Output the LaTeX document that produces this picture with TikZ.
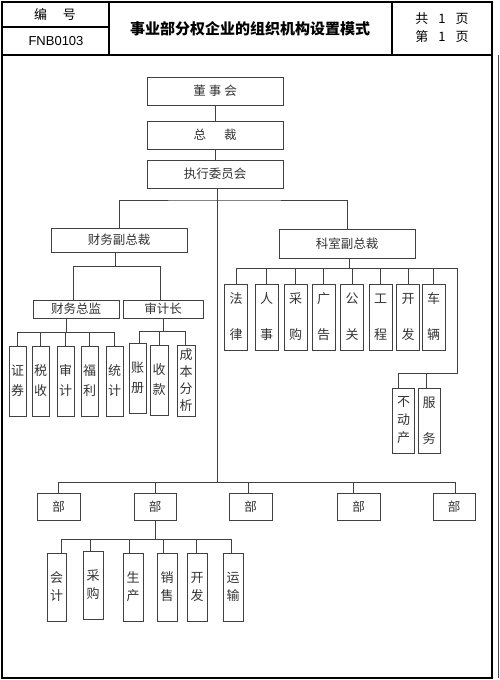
\documentclass[tikz,border=0pt]{standalone}
\usepackage{fontspec}
\setmainfont{Noto Sans CJK SC}
\newfontfamily\latinfont{Liberation Sans}
\usepackage{tikz}
\tikzset{
  unit/.style={draw=black!75, line width=0.7pt, inner sep=0pt, font=\fontsize{12.5}{12.5}\selectfont, text=black!80},
  leaf/.style={draw=black!75, line width=0.7pt, inner sep=0pt, align=center, font=\fontsize{13}{13}\selectfont, text=black!80},
  link/.style={draw=black!75, line width=0.7pt},
}
\begin{document}
\begin{tikzpicture}[x=1pt, y=-1pt]
			%%%%% START %%%%%
			\useasboundingbox (0, 0) rectangle (500, 680);
			
			% header
			\draw[line width=1.4pt] (2, 2) rectangle (492, 55);
			\draw[line width=1.1pt] (109, 2) -- (109, 55);
			\draw[line width=1.1pt] (392, 2) -- (392, 55);
			\draw[line width=1.1pt] (2, 27) -- (109, 27);
			\node (code) at (55, 15) {\fontsize{13}{13}\selectfont 编\hspace{16pt}号};
			\node (codeno) at (56, 41) {\latinfont\fontsize{13}{13}\selectfont FNB0103};
			\node (title) at (250, 29) {\fontsize{15}{15}\selectfont\bfseries 事业部分权企业的组织机构设置模式};
			\node (pages) at (442, 19) {\fontsize{13}{13}\selectfont 共\hspace{10pt}1\hspace{10pt}页};
			\node (pageno) at (442, 37) {\fontsize{13}{13}\selectfont 第\hspace{10pt}1\hspace{10pt}页};
			
			% frame
			\draw[line width=1.4pt] (2, 55) -- (2, 678) -- (492, 678) -- (492, 55);
			\draw[line width=0.8pt, color=black!70] (498, 55) -- (498, 678);
			
			% top
			\node[unit, minimum width=136pt, minimum height=28pt] (board) at (215, 91) {董\hspace{3pt}事\hspace{3pt}会};
			\node[unit, minimum width=136pt, minimum height=28pt] (pres) at (215, 135) {总\hspace{18pt}裁};
			\node[unit, minimum width=136pt, minimum height=28pt] (exec) at (215, 174) {执行委员会};
			\draw[link] (board) -- (pres);
			\draw[link] (pres) -- (exec);
			
			% vice presidents
			\node[unit, minimum width=136pt, minimum height=24pt] (fin) at (119, 240) {财务副总裁};
			\node[unit, minimum width=136pt, minimum height=29pt] (off) at (347, 243.5) {科室副总裁};
			\coordinate (vbus) at (216, 200);
			\draw[link] (fin.north) |- (vbus) -| (off.north);
			
			% finance side
			\node[unit, minimum width=86pt, minimum height=18pt] (cfo) at (76, 309) {财务总监};
			\node[unit, minimum width=80pt, minimum height=18pt] (audit) at (163, 309) {审计长};
			\coordinate (fbus) at (115, 266);
			\coordinate (fl) at (73, 266);
			\coordinate (fr) at (160, 266);
			\draw[link] (fbus |- fin.south) -- (fbus);
			\draw[link] (fl) -- (fr);
			\draw[link] (fl) -- (fl |- cfo.north);
			\draw[link] (fr) -- (fr |- audit.north);
			
			\node[leaf, minimum width=17pt, minimum height=70pt] (sec) at (17.5, 381) {证\\[7pt]券};
			\node[leaf, minimum width=17pt, minimum height=70pt] (tax) at (40.5, 381) {税\\[7pt]收};
			\node[leaf, minimum width=17pt, minimum height=70pt] (aud) at (65.5, 381) {审\\[7pt]计};
			\node[leaf, minimum width=17pt, minimum height=70pt] (wel) at (89.5, 381) {福\\[7pt]利};
			\node[leaf, minimum width=17pt, minimum height=70pt] (stat) at (114.5, 381) {统\\[7pt]计};
			\coordinate (cbus) at (66, 332);
			\draw[link] (cbus |- cfo.south) -- (cbus);
			\draw[link] (sec.north |- cbus) -- (stat.north |- cbus);
			\draw[link] (sec.north |- cbus) -- (sec.north);
			\draw[link] (tax.north |- cbus) -- (tax.north);
			\draw[link] (aud.north |- cbus) -- (aud.north);
			\draw[link] (wel.north |- cbus) -- (wel.north);
			\draw[link] (stat.north |- cbus) -- (stat.north);
			
			\node[leaf, minimum width=17pt, minimum height=70pt] (book) at (137.5, 378) {账\\[7pt]册};
			\node[leaf, minimum width=18pt, minimum height=70pt] (recv) at (159, 380) {收\\[7pt]款};
			\node[leaf, minimum width=18pt, minimum height=71pt] (cost) at (186, 380.5) {成\\[4pt]本\\[4pt]分\\[4pt]析};
			\coordinate (abus) at (163, 331);
			\coordinate (al) at (139, 331);
			\coordinate (ar) at (185, 331);
			\draw[link] (abus |- audit.south) -- (abus);
			\draw[link] (al) -- (ar);
			\draw[link] (al) -- (al |- book.north);
			\draw[link] (recv.north |- abus) -- (recv.north);
			\draw[link] (ar) -- (ar |- cost.north);
			
			% office side
			\node[leaf, minimum width=23pt, minimum height=66pt] (law) at (236, 317) {法\\[23pt]律};
			\node[leaf, minimum width=23pt, minimum height=66pt] (hr) at (266.5, 317) {人\\[23pt]事};
			\node[leaf, minimum width=23pt, minimum height=66pt] (buy) at (295.5, 317) {采\\[23pt]购};
			\node[leaf, minimum width=23pt, minimum height=66pt] (ad) at (323.5, 317) {广\\[23pt]告};
			\node[leaf, minimum width=23pt, minimum height=66pt] (pr) at (352, 317) {公\\[23pt]关};
			\node[leaf, minimum width=23pt, minimum height=66pt] (eng) at (380.5, 317) {工\\[23pt]程};
			\node[leaf, minimum width=23pt, minimum height=66pt] (dev) at (408, 317) {开\\[23pt]发};
			\node[leaf, minimum width=23pt, minimum height=66pt] (car) at (433.5, 317) {车\\[23pt]辆};
			\coordinate (obus) at (349, 268);
			\coordinate (oend) at (457, 268);
			\draw[link] (obus |- off.south) -- (obus);
			\draw[link] (law.north |- obus) -- (oend);
			\draw[link] (law.north |- obus) -- (law.north);
			\draw[link] (hr.north |- obus) -- (hr.north);
			\draw[link] (buy.north |- obus) -- (buy.north);
			\draw[link] (ad.north |- obus) -- (ad.north);
			\draw[link] (pr.north |- obus) -- (pr.north);
			\draw[link] (eng.north |- obus) -- (eng.north);
			\draw[link] (dev.north |- obus) -- (dev.north);
			\draw[link] (car.north |- obus) -- (car.north);
			
			\node[leaf, minimum width=22pt, minimum height=65pt] (estate) at (403.5, 420.5) {不\\[5pt]动\\[5pt]产};
			\node[leaf, minimum width=22pt, minimum height=65pt] (serv) at (429, 420.5) {服\\[23pt]务};
			\coordinate (sbus) at (457, 373);
			\coordinate (sl) at (398, 373);
			\coordinate (sm) at (426, 373);
			\draw[link] (oend) -- (sbus) -- (sl) -- (sl |- estate.north);
			\draw[link] (sm) -- (sm |- serv.north);
			
			% divisions
			\coordinate (dbus) at (217, 482);
			\coordinate (dend) at (455, 482);
			\draw[link] (exec.south -| dbus) -- (dbus);
			\node[unit, minimum width=43pt, minimum height=27pt] (div1) at (58.5, 506.5) {部};
			\node[unit, minimum width=42pt, minimum height=27pt] (div2) at (155, 506.5) {部};
			\node[unit, minimum width=43pt, minimum height=27pt] (div3) at (250.5, 506.5) {部};
			\node[unit, minimum width=43pt, minimum height=27pt] (div4) at (358.5, 506.5) {部};
			\node[unit, minimum width=42pt, minimum height=27pt] (div5) at (454, 506.5) {部};
			\coordinate (d3) at (248, 482);
			\coordinate (d4) at (353, 482);
			\draw[link] (div1.north |- dbus) -- (dend);
			\draw[link] (div1.north |- dbus) -- (div1.north);
			\draw[link] (div2.north |- dbus) -- (div2.north);
			\draw[link] (d3) -- (d3 |- div3.north);
			\draw[link] (d4) -- (d4 |- div4.north);
			\draw[link] (dend) -- (dend |- div5.north);
			
			\node[leaf, minimum width=19pt, minimum height=68pt] (acct) at (56.5, 587) {会\\[5pt]计};
			\node[leaf, minimum width=20pt, minimum height=68pt] (purch) at (93, 585) {采\\[5pt]购};
			\node[leaf, minimum width=20pt, minimum height=68pt] (prod) at (133, 587) {生\\[5pt]产};
			\node[leaf, minimum width=20pt, minimum height=68pt] (sale) at (167, 587) {销\\[5pt]售};
			\node[leaf, minimum width=20pt, minimum height=68pt] (rd) at (197, 587) {开\\[5pt]发};
			\node[leaf, minimum width=20pt, minimum height=68pt] (ship) at (233, 587) {运\\[5pt]输};
			\coordinate (bbus) at (155, 539);
			\coordinate (b1) at (61, 539);
			\coordinate (b2) at (90, 539);
			\coordinate (b3) at (129, 539);
			\coordinate (b4) at (163, 539);
			\coordinate (b5) at (196, 539);
			\coordinate (b6) at (231, 539);
			\draw[link] (div2.south) -- (bbus);
			\draw[link] (b1) -- (b6);
			\draw[link] (b1) -- (b1 |- acct.north);
			\draw[link] (b2) -- (b2 |- purch.north);
			\draw[link] (b3) -- (b3 |- prod.north);
			\draw[link] (b4) -- (b4 |- sale.north);
			\draw[link] (b5) -- (b5 |- rd.north);
			\draw[link] (b6) -- (b6 |- ship.north);
			
			%%%%% END %%%%%
		\end{tikzpicture}
\end{document}
